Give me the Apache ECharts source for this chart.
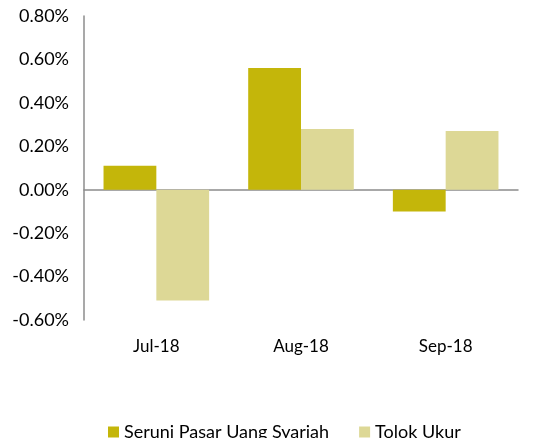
<!DOCTYPE html>
<html>
<head>
<meta charset="utf-8">
<script src="https://cdn.jsdelivr.net/npm/echarts@6/dist/echarts.min.js"></script>
<style>
  html, body { margin: 0; padding: 0; background: #fff; }
  #chart { width: 549px; height: 438px; }
</style>
</head>
<body>
<div id="chart"></div>
<script>
const categories = ["Jul-18", "Aug-18", "Sep-18"];
const seruni = [0.11, 0.56, -0.10];
const tolokUkur = [-0.51, 0.28, 0.27];
const seriesNames = ["Seruni Pasar Uang Syariah", "Tolok Ukur"];

const FONT = "Lato";
const chart = echarts.init(document.getElementById("chart"), null, { renderer: "canvas" });

chart.setOption({
  animation: false,
  backgroundColor: "#ffffff",
  color: ["#c4b60a", "#ddd896"],
  textStyle: { fontFamily: FONT },
  grid: { left: 84, right: 31, top: 16, bottom: 118 },
  legend: {
    data: seriesNames,
    left: 103,
    top: 418,
    itemWidth: 11,
    itemHeight: 11,
    itemGap: 30,
    icon: "rect",
    textStyle: { color: "#000", fontSize: 18, fontFamily: FONT },
  },
  xAxis: [
    {
      type: "category",
      data: categories,
      axisLine: { show: false, onZero: false },
      axisTick: { show: false },
      axisLabel: { color: "#000", fontSize: 17, margin: 18 },
    },
    {
      type: "category",
      data: categories,
      position: "bottom",
      axisLine: { show: true, onZero: true, lineStyle: { color: "#8c8c8c", width: 1.5 } },
      axisTick: { show: false },
      axisLabel: { show: false },
    },
  ],
  yAxis: {
    type: "value",
    min: -0.6,
    max: 0.8,
    interval: 0.2,
    axisLine: { show: true, lineStyle: { color: "#8c8c8c", width: 1.5 } },
    axisTick: { show: false },
    splitLine: { show: false },
    axisLabel: {
      color: "#000",
      fontSize: 18,
      margin: 15,
      formatter: (v) => v.toFixed(2) + "%",
    },
  },
  series: [
    {
      name: seriesNames[0],
      type: "bar",
      data: seruni,
      barGap: "0%",
      barCategoryGap: "27%",
    },
    {
      name: seriesNames[1],
      type: "bar",
      data: tolokUkur,
      barGap: "0%",
      barCategoryGap: "27%",
    },
  ],
});
</script>
</body>
</html>
